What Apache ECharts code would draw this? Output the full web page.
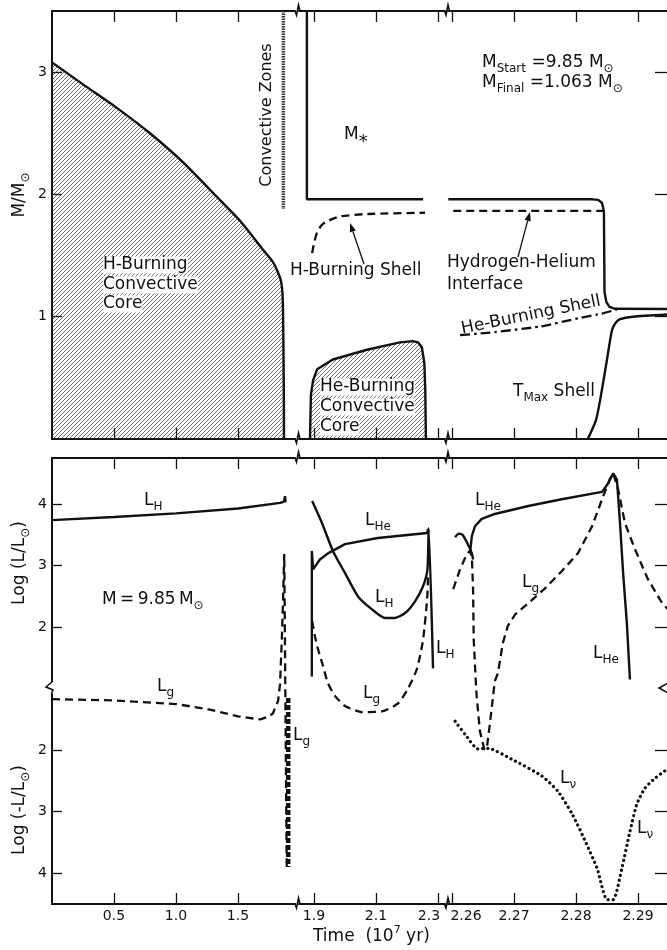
<!DOCTYPE html>
<html><head><meta charset="utf-8">
<script src="https://cdn.jsdelivr.net/npm/echarts@6/dist/echarts.min.js"></script>
<style>html,body{margin:0;padding:0;background:#fff}#c{width:667px;height:950px}</style>
</head><body><div id="c"></div>
<script>
// ---------------- tick values ----------------
const seg1Ticks = [0.5, 1.0, 1.5];
const seg2Ticks = [1.9, 2.1, 2.3];
const seg3Ticks = [2.26, 2.27, 2.28, 2.29];
const massTicks = [1, 2, 3];
const lumTicks = [4, 3, 2];      // Log(L/Lsun) upper part
const negLumTicks = [2, 3, 4];   // Log(-L/Lsun) lower part

// ---------------- top panel: mass coordinate M/Msun vs time (1e7 yr) ----------------
const coreH = [[0,3.08],[0.25,2.9],[0.52,2.71],[0.79,2.5],[1.06,2.26],[1.33,1.98],[1.52,1.78],[1.70,1.55],[1.78,1.45],[1.815,1.38],[1.845,1.3],[1.858,1.2],[1.863,1.05],[1.867,0.7],[1.87,0.3],[1.871,0]];
const convZones = [[1.866,3.5],[1.866,1.88]];
const mStarA = [[1.877,3.5],[1.877,1.96],[2.252,1.96]];
const hShell = [[1.894,1.52],[1.9,1.6],[1.91,1.69],[1.925,1.75],[1.942,1.78],[1.984,1.82],[2.071,1.84],[2.258,1.85]];
const coreHe = [[1.887,0],[1.89,0.36],[1.897,0.48],[1.91,0.57],[1.961,0.65],[2.071,0.73],[2.177,0.79],[2.219,0.8],[2.236,0.79],[2.248,0.75],[2.256,0.62],[2.259,0.4],[2.261,0]];
const mStarB = [[2.2594,1.96],[2.2827,1.96],[2.2836,1.955],[2.2842,1.93],[2.2845,1.86],[2.2846,1.2],[2.2849,1.12],[2.2854,1.08],[2.2863,1.065],[2.2952,1.063]];
const hHeInterface = [[2.2602,1.865],[2.2844,1.865]];
const heShell = [[2.2613,0.85],[2.2661,0.87],[2.2742,0.92],[2.2806,0.99],[2.2845,1.03],[2.2866,1.06]];
const tMax = [[2.2819,0],[2.2832,0.15],[2.2839,0.32],[2.285,0.65],[2.2858,0.89],[2.2864,0.95],[2.2871,0.98],[2.2892,1.0],[2.2952,1.02]];

// ---------------- bottom panel: signed log luminosity ----------------
// v >= 1 : Log(L/Lsun) = v ;  v <= -1 : Log(-L/Lsun) = -v
const LH1 = [[0,3.74],[0.5,3.79],[1.0,3.85],[1.5,3.93],[1.84,4.02],[1.872,4.04],[1.879,4.13],[1.884,4.03]];
const Lg1 = [[0,-1.17],[0.5,-1.19],[1.0,-1.25],[1.25,-1.33],[1.5,-1.45],[1.68,-1.5],[1.75,-1.45],[1.782,-1.40],[1.823,-1.20],[1.839,1.07],[1.855,1.89],[1.863,2.42],[1.873,3.19],[1.893,-3.95]];
const LgOsc1 = [[1.905,-1.15],[1.905,-3.9]];
const LH2 = [[1.894,4.05],[1.926,3.69],[1.961,3.24],[2.0,2.88],[2.042,2.5],[2.087,2.29],[2.129,2.15],[2.161,2.15],[2.194,2.23],[2.226,2.42],[2.252,2.67],[2.266,2.94],[2.27,3.61],[2.284,1.33]];
const LHe2 = [[1.893,1.2],[1.893,3.24],[1.897,2.94],[1.919,3.1],[1.945,3.2],[2.0,3.35],[2.106,3.45],[2.265,3.53],[2.268,3.6]];
const Lg2 = [[1.894,2.1],[1.903,1.85],[1.913,1.64],[1.929,1.37],[1.945,1.09],[1.968,-1.12],[2.0,-1.28],[2.055,-1.38],[2.119,-1.37],[2.171,-1.24],[2.203,1.0],[2.232,1.32],[2.252,1.8],[2.265,2.46],[2.268,2.83]];
const LH3 = [[2.2605,3.46],[2.2611,3.52],[2.2617,3.5],[2.2624,3.38],[2.2632,3.2],[2.2634,3.1]];
const LHe3 = [[2.2629,3.2],[2.2632,3.48],[2.2637,3.64],[2.2648,3.76],[2.2669,3.84],[2.2723,3.97],[2.2777,4.08],[2.2842,4.2],[2.2852,4.34],[2.286,4.5],[2.2866,4.4],[2.2871,3.69],[2.2876,2.88],[2.2882,2.07],[2.2887,1.15]];
const Lg3 = [[2.2602,2.62],[2.2613,2.94],[2.2624,3.19],[2.2629,3.24],[2.2632,3.15],[2.2634,2.62],[2.2635,1.8],[2.2639,1.0],[2.264,-1.15],[2.2645,-1.69],[2.2652,-1.98],[2.2656,-1.98],[2.2661,-1.58],[2.2669,1.12],[2.2674,1.25],[2.2682,1.74],[2.269,2.02],[2.2702,2.21],[2.2723,2.39],[2.275,2.63],[2.2777,2.91],[2.2803,3.2],[2.2826,3.64],[2.2842,4.08],[2.2855,4.42],[2.286,4.5],[2.2868,4.24],[2.2879,3.69],[2.2895,3.27],[2.2916,2.78],[2.2939,2.39],[2.2952,2.25]];
const Lnu3 = [[2.2605,-1.53],[2.2621,-1.74],[2.2642,-1.98],[2.2658,-1.97],[2.2697,-2.15],[2.2745,-2.42],[2.2771,-2.67],[2.2794,-3.04],[2.2815,-3.48],[2.2834,-3.92],[2.285,-4.43],[2.286,-4.43],[2.2874,-3.92],[2.2887,-3.32],[2.2898,-2.88],[2.2911,-2.62],[2.2927,-2.46],[2.2947,-2.31],[2.2952,-2.29]];

// ---------------- styling / layout ----------------
const INK = '#111';
const FONTNAME = 'DejaVu Sans';
const FONT = '"DejaVu Sans", sans-serif';
const PANELS = [{top: 11, height: 428, min: 0, max: 3.5}, {top: 458, height: 446, min: -2.5, max: 4.75}];
const SEGS = [
  {left: 52, width: 243, min: 0, max: 1.9597, ticks: seg1Ticks},
  {left: 299, width: 146, min: 1.8516, max: 2.3226, ticks: seg2Ticks},
  {left: 448, width: 222, min: 2.259355, max: 2.295161, ticks: seg3Ticks}
];
// map signed log value to the broken axis coordinate
const U = v => (v >= 1 ? v : v + 2);
const toU = arr => arr.map(([t, v]) => [t, U(v)]);
const uTicks = lumTicks.concat(negLumTicks.map(n => U(-n)));

function hatchCanvas() {
  const c = document.createElement('canvas'); c.width = c.height = 4;
  const x = c.getContext('2d');
  x.strokeStyle = '#333'; x.lineWidth = 0.7;
  x.beginPath();
  x.moveTo(0, 4); x.lineTo(4, 0);
  x.moveTo(-1, 1); x.lineTo(1, -1);
  x.moveTo(3, 5); x.lineTo(5, 3);
  x.stroke();
  return c;
}
const HATCH = {image: hatchCanvas(), repeat: 'repeat'};

const grids = [], xAxes = [], yAxes = [];
PANELS.forEach((p, pi) => {
  SEGS.forEach((s, si) => {
    const g = pi * 3 + si;
    grids.push({left: s.left, width: s.width, top: p.top, height: p.height, containLabel: false, outerBoundsMode: 'none'});
    const fmt = v => {
      if (si === 1 && Math.abs(v - 2.3) < 1e-6) return '{l|2.3}';
      if (si === 2 && Math.abs(v - 2.26) < 1e-6) return '{r|2.26}';
      return v.toFixed(si === 2 ? 2 : 1);
    };
    const rs = {fontSize: 14, fontFamily: FONTNAME, color: INK};
    ['bottom', 'top'].forEach(pos => {
      xAxes.push({
        gridIndex: g, type: 'value', position: pos, min: s.min, max: s.max,
        axisLine: {show: true, onZero: false, lineStyle: {color: INK, width: 2}},
        axisTick: {show: true, inside: true, length: 11, customValues: s.ticks, lineStyle: {color: INK, width: 1.3}},
        axisLabel: {show: pi === 1 && pos === 'bottom', customValues: s.ticks, formatter: fmt, margin: 5,
          fontSize: 14, fontFamily: FONTNAME, color: INK,
          rich: {l: Object.assign({padding: [0, 18, 0, 0]}, rs), r: Object.assign({padding: [0, 0, 0, 28]}, rs)}},
        splitLine: {show: false}
      });
    });
    const ticks = pi === 0 ? massTicks : uTicks;
    yAxes.push({
      gridIndex: g, type: 'value', min: p.min, max: p.max, show: si !== 1,
      position: si === 2 ? 'right' : 'left',
      axisLine: {show: true, onZero: false, lineStyle: {color: INK, width: 2}},
      axisTick: {show: true, inside: true, length: si === 2 ? 15 : 10, customValues: ticks, lineStyle: {color: INK, width: 1.3}},
      axisLabel: {show: si === 0, customValues: ticks, margin: 5, fontSize: 14, fontFamily: FONTNAME, color: INK,
        formatter: v => pi === 0 ? String(v) : String(v >= 1 ? v : 2 - v)},
      splitLine: {show: false}
    });
  });
});

const solid = {color: INK, width: 2.4};
const dashed = {color: INK, width: 2.3, type: [8, 5]};
const dotted = {color: INK, width: 3.2, type: [0.1, 5], cap: 'round'};
const dashdot = {color: INK, width: 2.3, type: [10, 4, 2.5, 4]};
const SM = {smooth: 0.2};
function S(data, g, style, extra) {
  return Object.assign({type: 'line', data: data, xAxisIndex: 2 * g, yAxisIndex: g, symbol: 'none', silent: true,
    animation: false, lineStyle: style, z: 3}, extra || {});
}
const series = [
  S(coreH, 0, solid, Object.assign({areaStyle: {color: HATCH, opacity: 1}}, SM)),
  S(convZones, 0, {color: '#333', width: 3.5, type: [1.5, 1]}),
  S(mStarA, 1, solid),
  S(hShell, 1, dashed, SM),
  S(coreHe, 1, solid, {areaStyle: {color: HATCH, opacity: 1}}),
  S(mStarB, 2, solid),
  S(hHeInterface, 2, dashed),
  S(heShell, 2, dashdot, SM),
  S(tMax, 2, solid, SM),
  S(toU(LH1), 3, solid),
  S(toU(Lg1), 3, dashed),
  S(toU(LgOsc1), 3, {color: INK, width: 4.5, type: [5, 2]}),
  S(toU(LH2), 4, solid, SM),
  S(toU(LHe2), 4, solid),
  S(toU(Lg2), 4, dashed, SM),
  S(toU(LH3), 5, solid, SM),
  S(toU(LHe3), 5, solid),
  S(toU(Lg3), 5, dashed),
  S(toU(Lnu3), 5, dotted, SM)
];

// ---------------- annotations ----------------
const mctx = document.createElement('canvas').getContext('2d');
function tw(s, size) { mctx.font = size + 'px ' + FONT; return mctx.measureText(s).width; }
const KIND = {n: [1, 0], sub: [0.72, 0.32], sup: [0.62, -0.38], star: [1.05, 0.42]};
function label(x, y, parts, size, o) {
  o = o || {};
  let cx = 0; const kids = [];
  parts.forEach(([s, k]) => {
    const [f, d] = KIND[k || 'n'];
    const sz = Math.round(size * f);
    const st = {text: s, font: sz + 'px ' + FONT, fill: INK, align: 'left', verticalAlign: 'middle',
      textAlign: 'left', textVerticalAlign: 'middle'};
    if (o.bg) { st.backgroundColor = '#fff'; }
    kids.push({type: 'text', x: cx, y: d * size, z: 100, style: st});
    cx += tw(s, sz);
  });
  const ox = o.align === 'center' ? -cx / 2 : 0;
  kids.forEach(k => { k.x += ox; });
  return {type: 'group', x: x, y: y, rotation: o.rot || 0, z: 100, children: kids};
}
function arrow(x1, y1, x2, y2) {
  const a = Math.atan2(y2 - y1, x2 - x1), L = 9, w = 3.2;
  const bx = x2 - L * Math.cos(a), by = y2 - L * Math.sin(a);
  const px = -Math.sin(a) * w, py = Math.cos(a) * w;
  return [
    {type: 'line', z: 100, shape: {x1: x1, y1: y1, x2: bx, y2: by}, style: {stroke: INK, lineWidth: 1.3}},
    {type: 'polygon', z: 100, shape: {points: [[x2, y2], [bx + px, by + py], [bx - px, by - py]]}, style: {fill: INK}}
  ];
}
function xBreak(cx, cy) {
  return {type: 'polyline', z: 100, shape: {points: [[cx - 6, cy], [cx - 2, cy], [cx - 0.5, cy + 4], [cx + 1.5, cy - 6], [cx + 3, cy], [cx + 7, cy]]},
    style: {stroke: INK, lineWidth: 1.6, fill: null}};
}
const L17 = 17;
const gfx = [];
[11, 439, 458, 904].forEach(y => { gfx.push(xBreak(297, y)); gfx.push(xBreak(446.5, y)); });
gfx.push({type: 'rect', z: 99, shape: {x: 49, y: 682, width: 6, height: 12}, style: {fill: '#fff'}});
gfx.push({type: 'polyline', z: 100, shape: {points: [[52, 680], [52, 682], [46, 687], [53, 690], [52, 692], [52, 696]]}, style: {stroke: INK, lineWidth: 1.6, fill: null}});
gfx.push({type: 'polyline', z: 100, shape: {points: [[670, 682], [659, 688], [670, 694]]}, style: {stroke: INK, lineWidth: 1.6, fill: null}});

// top panel text
gfx.push(label(267, 115, [['Convective Zones']], 16, {rot: Math.PI / 2, align: 'center'}));
gfx.push(label(103, 265, [['H-Burning']], L17, {bg: true}));
gfx.push(label(103, 285, [['Convective']], L17, {bg: true}));
gfx.push(label(103, 304, [['Core']], L17, {bg: true}));
gfx.push(label(344, 135, [['M'], ['*', 'star']], L17));
gfx.push(label(482, 63, [['M'], ['Start', 'sub'], [' =9.85 M'], ['\u2299', 'sub']], L17));
gfx.push(label(482, 83, [['M'], ['Final', 'sub'], [' =1.063 M'], ['\u2299', 'sub']], L17));
gfx.push(label(290, 271, [['H-Burning Shell']], L17));
gfx.push(label(447, 263, [['Hydrogen-Helium']], L17));
gfx.push(label(447, 285, [['Interface']], L17));
gfx.push(label(531, 315, [['He-Burning Shell']], L17, {rot: 0.2, align: 'center'}));
gfx.push(label(320, 387, [['He-Burning']], L17, {bg: true}));
gfx.push(label(320, 407, [['Convective']], L17, {bg: true}));
gfx.push(label(320, 427, [['Core']], L17, {bg: true}));
gfx.push(label(513, 392, [['T'], ['Max', 'sub'], [' Shell']], L17));
arrow(364, 264, 350, 223).forEach(e => gfx.push(e));
arrow(518, 257, 530, 212).forEach(e => gfx.push(e));
gfx.push(label(20, 195, [['M/M'], ['\u2299', 'sub']], L17, {rot: Math.PI / 2, align: 'center'}));

// bottom panel text
gfx.push(label(20, 563, [['Log (L/L'], ['\u2299', 'sub'], [')']], L17, {rot: Math.PI / 2, align: 'center'}));
gfx.push(label(20, 810, [['Log (-L/L'], ['\u2299', 'sub'], [')']], L17, {rot: Math.PI / 2, align: 'center'}));
gfx.push(label(313, 937, [['Time  (10'], ['7', 'sup'], [' yr)']], L17));
gfx.push(label(102, 600, [['M\u2009=\u20099.85\u2009M'], ['\u2299', 'sub']], L17));
gfx.push(label(144, 501, [['L'], ['H', 'sub']], L17));
gfx.push(label(157, 687, [['L'], ['g', 'sub']], L17));
gfx.push(label(293, 736, [['L'], ['g', 'sub']], L17));
gfx.push(label(365, 521, [['L'], ['He', 'sub']], L17));
gfx.push(label(375, 598, [['L'], ['H', 'sub']], L17));
gfx.push(label(436, 649, [['L'], ['H', 'sub']], L17));
gfx.push(label(363, 694, [['L'], ['g', 'sub']], L17));
gfx.push(label(475, 501, [['L'], ['He', 'sub']], L17));
gfx.push(label(522, 583, [['L'], ['g', 'sub']], L17));
gfx.push(label(593, 654, [['L'], ['He', 'sub']], L17));
gfx.push(label(560, 779, [['L'], ['\u03bd', 'sub']], L17));
gfx.push(label(637, 829, [['L'], ['\u03bd', 'sub']], L17));

const chart = echarts.init(document.getElementById('c'), null, {renderer: 'canvas'});
chart.setOption({
  animation: false,
  backgroundColor: '#fff',
  grid: grids, xAxis: xAxes, yAxis: yAxes, series: series,
  graphic: {elements: gfx}
});
</script></body></html>
